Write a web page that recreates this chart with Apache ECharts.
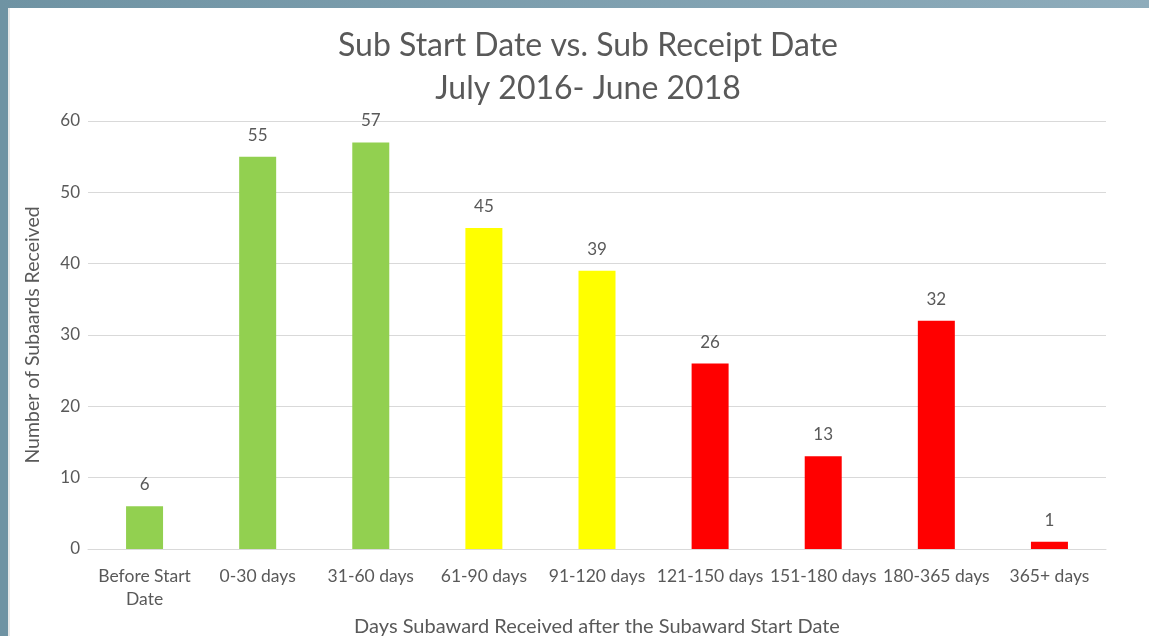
<!DOCTYPE html>
<html>
<head>
<meta charset="utf-8">
<script src="https://cdn.jsdelivr.net/npm/echarts@6/dist/echarts.min.js"></script>
<style>
  html, body { margin: 0; padding: 0; background: #fff; }
  #chart { width: 1149px; height: 636px; }
</style>
</head>
<body>
<div id="chart"></div>
<script>
// data
const categories = ['Before Start\nDate', '0-30 days', '31-60 days', '61-90 days', '91-120 days',
  '121-150 days', '151-180 days', '180-365 days', '365+ days']
const counts = [6, 55, 57, 45, 39, 26, 13, 32, 1]
const barColors = ['#92d050', '#92d050', '#92d050', '#ffff00', '#ffff00',
  '#ff0000', '#ff0000', '#ff0000', '#ff0000']
const yTicks = [0, 10, 20, 30, 40, 50, 60]

const font = 'Lato, "Open Sans", sans-serif'
const grey = '#595959'

const chart = echarts.init(document.getElementById('chart'))
chart.setOption({
  animation: false,
  textStyle: { fontFamily: font },
  title: {
    text: 'Sub Start Date vs. Sub Receipt Date\nJuly 2016- June 2018',
    left: 583, top: 19, textAlign: 'center',
    textStyle: { fontFamily: font, fontSize: 32, fontWeight: 'normal', color: grey, lineHeight: 43 }
  },
  grid: { left: 88, right: 43, top: 121, bottom: 87, outerBoundsMode: 'none', containLabel: false },
  xAxis: {
    type: 'category',
    data: categories,
    name: 'Days Subaward Received after the Subaward Start Date',
    nameLocation: 'middle',
    nameGap: 68,
    nameTextStyle: { fontFamily: font, fontSize: 20, color: grey },
    axisLine: { lineStyle: { color: '#d9d9d9', width: 1 } },
    axisTick: { show: false },
    axisLabel: { fontFamily: font, fontSize: 17.5, color: grey, margin: 16, lineHeight: 23, interval: 0 }
  },
  yAxis: {
    type: 'value',
    min: yTicks[0], max: yTicks[yTicks.length - 1], interval: 10,
    name: 'Number of Subaards Received',
    nameLocation: 'middle',
    nameGap: 45,
    nameTextStyle: { fontFamily: font, fontSize: 19.5, color: grey },
    axisLine: { show: false },
    axisTick: { show: false },
    axisLabel: { fontFamily: font, fontSize: 17, color: grey, margin: 8 },
    splitLine: { lineStyle: { color: '#d9d9d9', width: 1 } }
  },
  series: [{
    type: 'bar',
    barWidth: 37,
    data: counts.map((v, i) => ({ value: v, itemStyle: { color: barColors[i] } })),
    label: { show: true, position: 'top', distance: 13, fontFamily: font, fontSize: 17, color: grey }
  }],
  graphic: [
    // blue-grey slide frame on the left and top
    { type: 'rect', left: 0, top: 0, shape: { width: 8, height: 636 }, style: { fill: '#6f93a3' }, z: 100 },
    { type: 'rect', left: 0, top: 0, shape: { width: 1149, height: 8 },
      style: { fill: new echarts.graphic.LinearGradient(0, 0, 1, 0, [
        { offset: 0, color: '#6f93a3' }, { offset: 1, color: '#8eacbb' }]) }, z: 100 },
    { type: 'rect', left: 8, top: 8, shape: { width: 2, height: 628 }, style: { fill: '#e8e8e8' }, z: 100 }
  ]
})
</script>
</body>
</html>
